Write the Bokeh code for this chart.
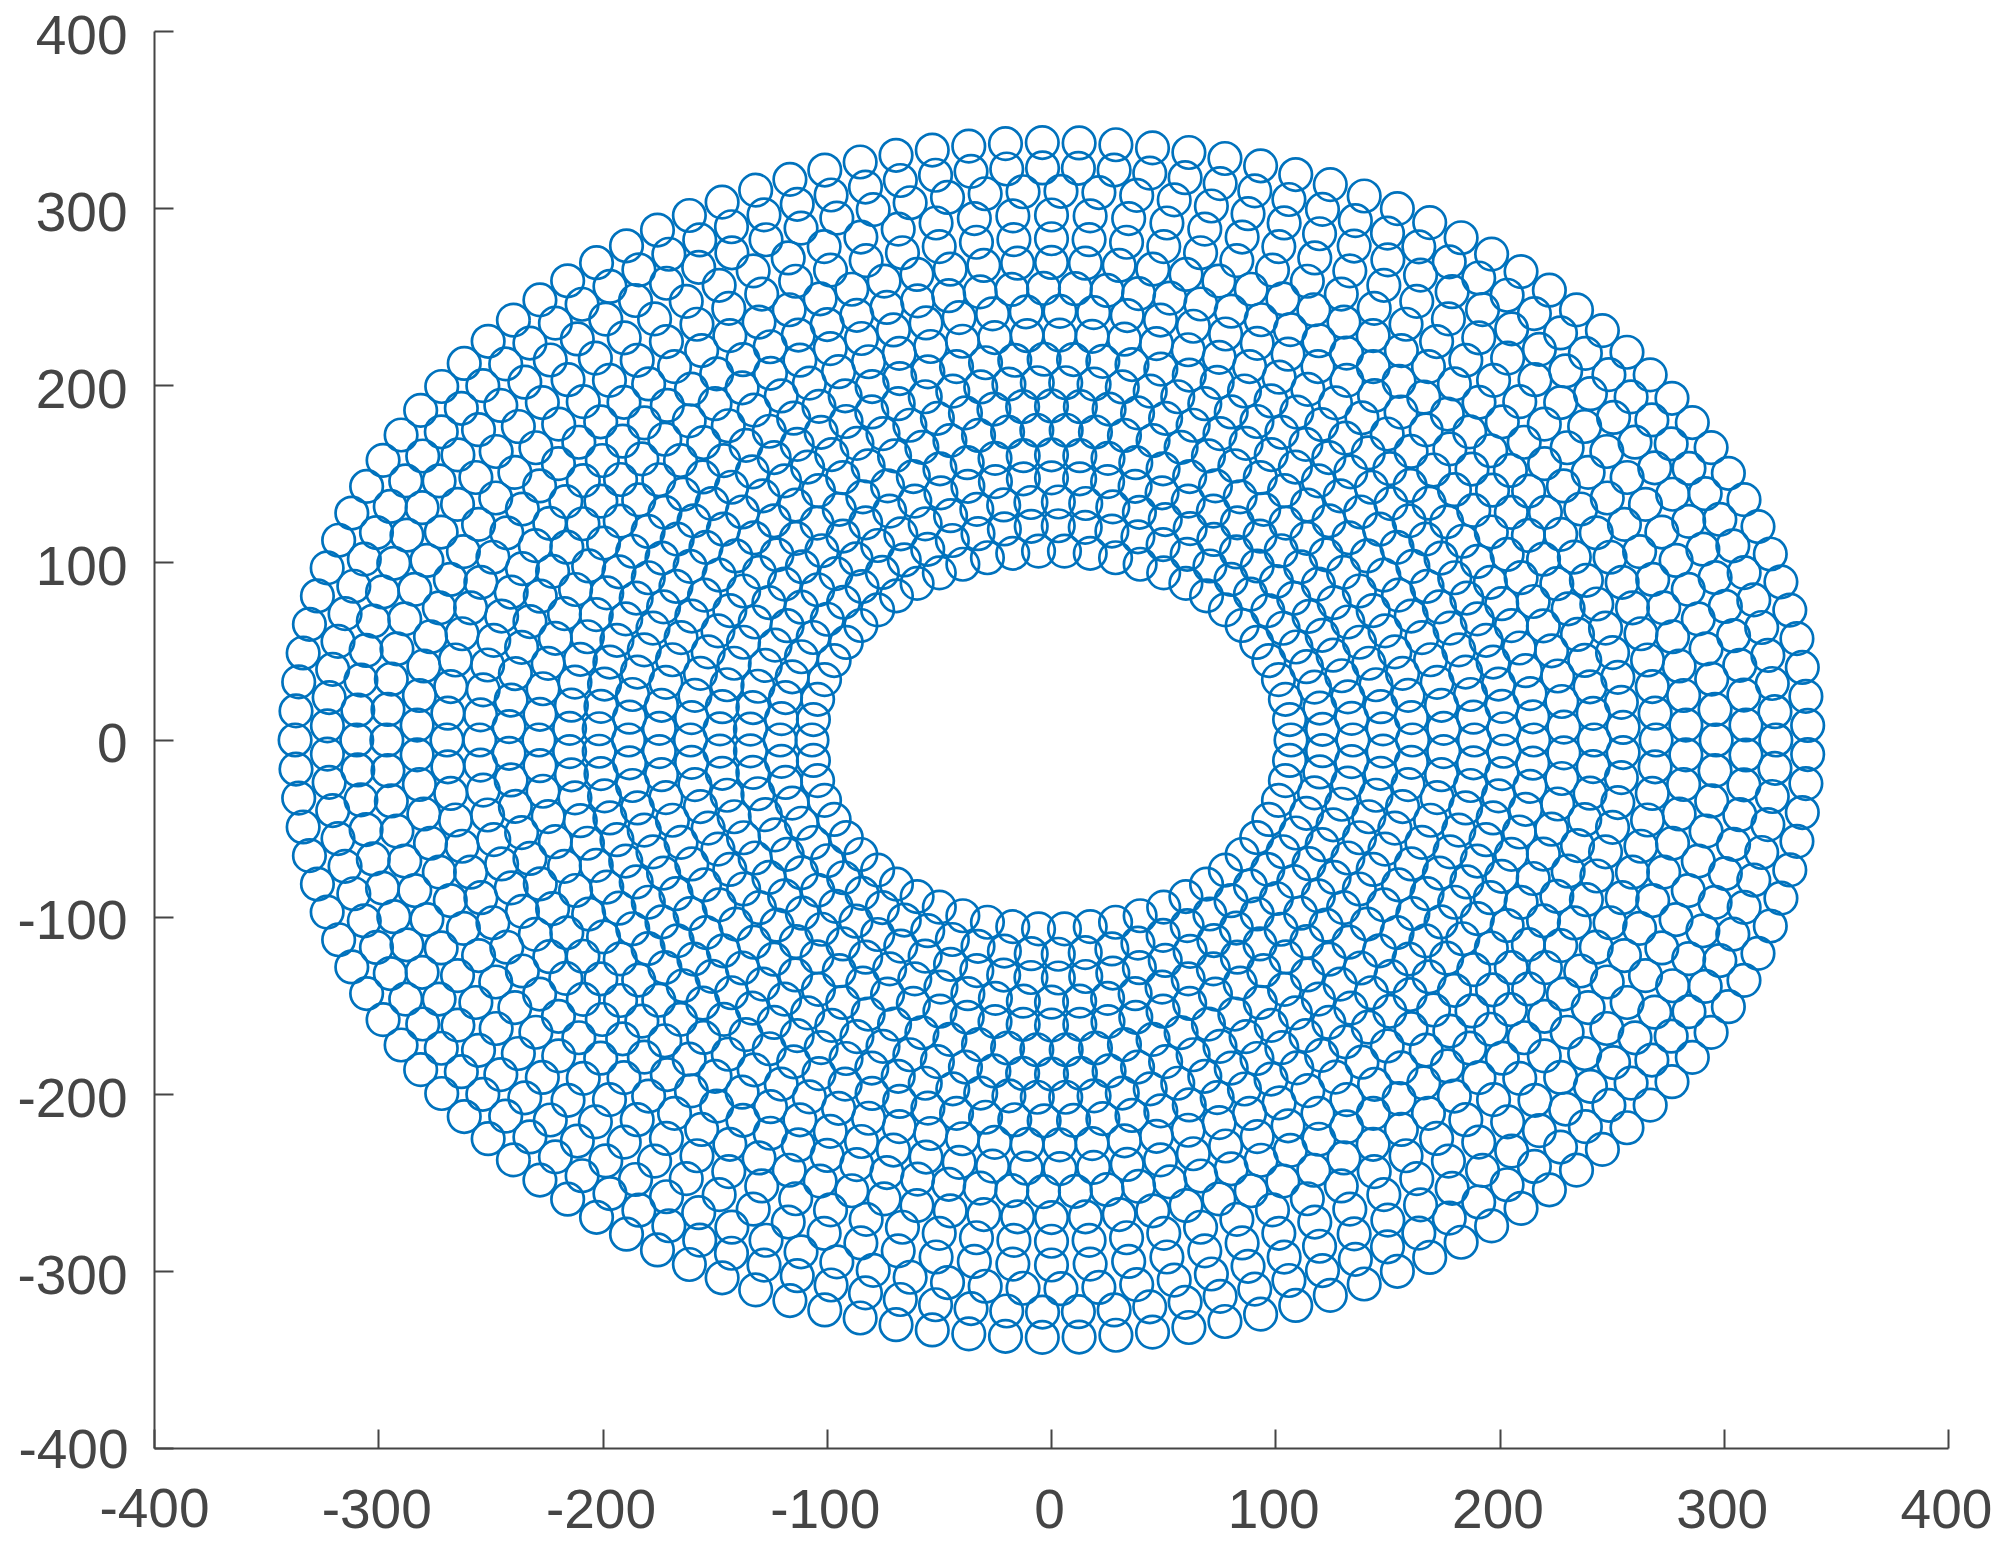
import numpy as np
from bokeh.embed import file_html
from bokeh.models import ColumnDataSource, FixedTicker, LinearAxis, Range1d
from bokeh.plotting import figure
from bokeh.resources import INLINE

# Values: each ring's radius, how many circles it holds,
# and its phase (fraction of one spacing) at angle 0. Inner ring first.
ring_radius = [106.8, 121.0, 134.4, 148.0, 161.0, 175.0, 188.6, 201.8, 215.0,
               228.6, 242.0, 255.0, 269.6, 283.0, 296.4, 309.8, 323.0, 337.3]
ring_count = [58, 63, 69, 74, 80, 84, 92, 100, 103,
              99, 101, 113, 112, 106, 108, 115, 127, 129]
ring_phase = [0.0, 0.5, 0.0, 0.5, 0.0, 0.5, 0.0, 0.5, 0.0,
              0.5, 0.0, 0.5, 0.0, 0.5, 0.0, 0.5, 0.0, 0.5]
tick_values = [-400, -300, -200, -100, 0, 100, 200, 300, 400]
tick_labels = ["-400", "-300", "-200", "-100", "0", "100", "200", "300", "400"]

xs, ys = [], []
for r, n, ph in zip(ring_radius, ring_count, ring_phase):
    t = (np.arange(n) + ph) * 2 * np.pi / n
    xs.extend(r * np.cos(t))
    ys.extend(r * np.sin(t))

INK = "#454545"
FONT = "Liberation Sans"
SIZE = "55px"
p = figure(width=1992, height=1547, frame_width=1794, frame_height=1417,
           output_backend="svg", toolbar_location=None,
           x_range=Range1d(-400, 400), y_range=Range1d(-400, 400),
           x_axis_type=None, y_axis_type=None,
           min_border_left=154, min_border_right=44, min_border_top=31, min_border_bottom=99,
           background_fill_color="white", border_fill_color="white", outline_line_color=None)
p.grid.visible = False
# Ranges nudged by a few pixels: they only carry the tick labels, which sit
# slightly below and left of their ticks in the reference.
p.extra_y_ranges = {"labels": Range1d(-398.1, 401.9)}
p.extra_x_ranges = {"labels": Range1d(-399.1, 400.9)}

src = ColumnDataSource(dict(x=xs, y=ys))
p.scatter("x", "y", source=src, marker="circle", size=32.5, fill_color=None,
          line_color="#0072BD", line_width=2.7)

for side in ("left", "below"):
    # The main axis draws the spine and ticks, plus the lowest label, which
    # would fall outside a nudged range.
    overrides = {v: "" for v in tick_values}
    overrides[tick_values[0]] = tick_labels[0]
    ax = LinearAxis(ticker=FixedTicker(ticks=tick_values), major_label_overrides=overrides)
    ax.axis_line_color = INK
    ax.axis_line_width = 2
    ax.major_tick_line_color = INK
    ax.major_tick_line_width = 2
    ax.major_tick_in = 19
    ax.major_tick_out = 0
    ax.minor_tick_line_color = None
    ax.major_label_text_color = INK
    ax.major_label_text_font = FONT
    ax.major_label_text_font_size = SIZE
    ax.major_label_standoff = 26 if side == "left" else 40
    p.add_layout(ax, side)

    names = {"y_range_name": "labels"} if side == "left" else {"x_range_name": "labels"}
    lab = LinearAxis(ticker=FixedTicker(ticks=tick_values),
                     major_label_overrides=dict(zip(tick_values, tick_labels)), **names)
    lab.axis_line_color = None
    lab.major_tick_line_color = None
    lab.minor_tick_line_color = None
    lab.major_tick_in = 0
    lab.major_tick_out = 0
    lab.major_label_text_color = INK
    lab.major_label_text_font = FONT
    lab.major_label_text_font_size = SIZE
    lab.major_label_standoff = -112 if side == "left" else -40
    p.add_layout(lab, side)

open("out.html", "w").write(file_html(p, INLINE))
